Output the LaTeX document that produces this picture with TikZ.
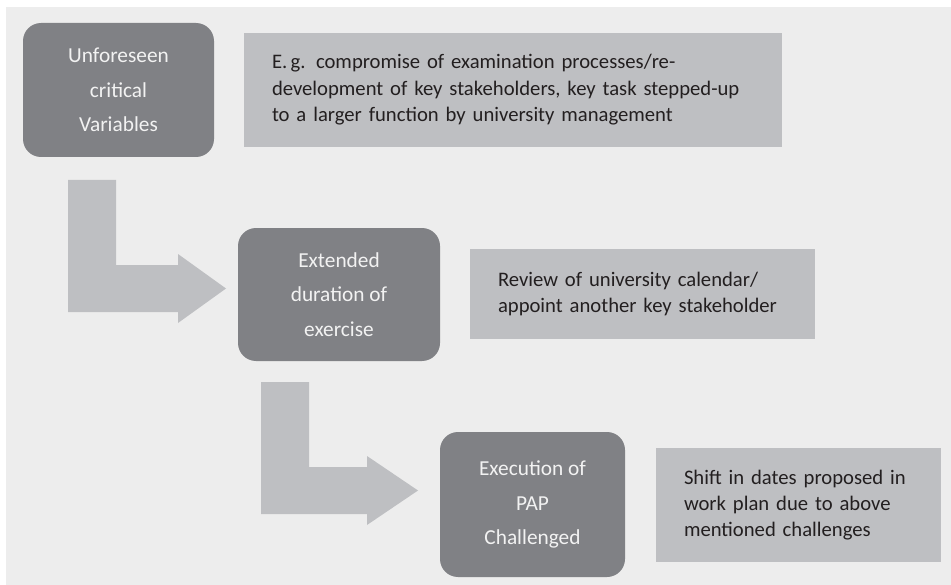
\documentclass[tikz,border=0pt]{standalone}
\usepackage{fontspec}
\setmainfont{Carlito}
\usepackage{tikz}
\usetikzlibrary{positioning}
\definecolor{bggray}{HTML}{EDEDED}
\definecolor{stagegray}{HTML}{808185}
\definecolor{notegray}{HTML}{BEBFC2}
\definecolor{inkgray}{HTML}{231F20}
\tikzset{every picture/.style={line width=0.75pt}}
\tikzset{
  stage/.style={fill=stagegray, rounded corners=13.5pt, text=white!95!black,
    align=center, inner sep=0pt, font=\fontsize{16}{26}\selectfont},
  note/.style={fill=notegray, text=inkgray, align=left, inner xsep=21pt,
    inner ysep=0pt, font=\fontsize{15.5}{19.8}\selectfont},
  bendarrow/.style={fill=notegray, draw=none}
}

\begin{document}
\begin{tikzpicture}[x=0.75pt,y=-0.75pt]
\useasboundingbox (0,0) rectangle (951,585);
\fill[bggray] (6,7) rectangle (951,585);
%
\node[stage, minimum width=143.25pt, minimum height=100.5pt] (v1) at (118.5,90) {Unforeseen\\critical\\Variables};
\node[stage, minimum width=151.5pt, minimum height=99.75pt] (v2) at (339,294.5) {Extended\\duration of\\exercise};
\node[stage, minimum width=138.75pt, minimum height=108.75pt] (v3) at (532.5,504.5) {Execution of\\PAP\\Challenged};
%
\node[note, text width=361.5pt, minimum height=85.5pt] (e1) at (513,90) {E.\,g. compromise of examination processes/re-\\development of key stakeholders, key task stepped-up\\to a larger function by university management};
\node[note, text width=216.75pt, minimum height=67.5pt] (e2) at (642.5,294) {Review of university calendar/\\appoint another key stakeholder};
\node[note, text width=171.75pt, minimum height=85.5pt] (e3) at (798.5,505) {Shift in dates proposed in\\work plan due to above\\mentioned challenges};
%
\foreach \x/\yt/\yb/\xb/\xt in {68/180/312/178/226, 261/382/514/367/418}
\fill[bendarrow] (\x,\yt) -- ({\x+48},\yt) -- ({\x+48},{\yb-47}) -- (\xb,{\yb-47})
  -- (\xb,{\yb-58}) -- (\xt,{\yb-23.5}) -- (\xb,{\yb+11}) -- (\xb,\yb) -- (\x,\yb) -- cycle;
\end{tikzpicture}
\end{document}
